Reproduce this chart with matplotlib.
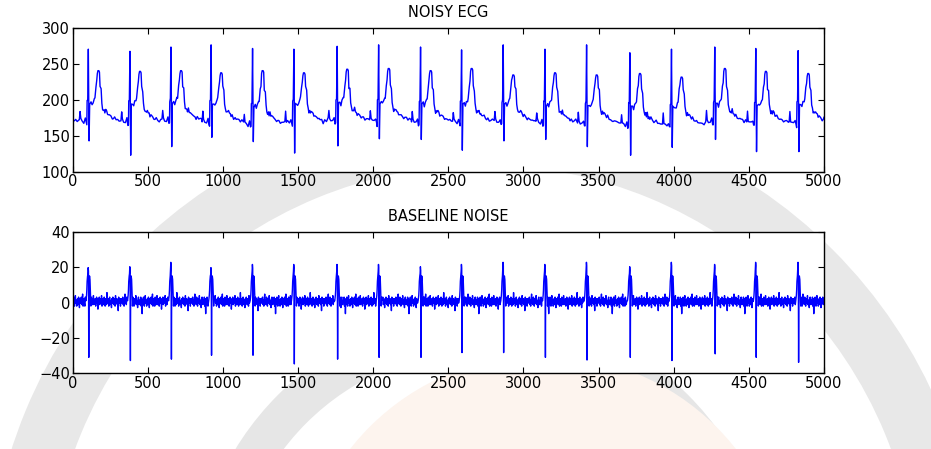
import numpy as np
import matplotlib
matplotlib.use("Agg")
import matplotlib.pyplot as plt
from matplotlib.patches import Wedge, Circle
from matplotlib.transforms import IdentityTransform

# ---------------- data ----------------
r_pos = [104, 381, 654, 921, 1197, 1472, 1760, 2036, 2315, 2588,
         2865, 3143, 3420, 3708, 3985, 4273, 4546, 4828]
r_val = [271, 268, 274, 277, 272, 271, 275, 277, 274, 270,
         277, 271, 277, 266, 271, 274, 272, 269]
s_val = [143, 123, 135, 148, 142, 126, 136, 146, 145, 130,
         143, 145, 135, 123, 134, 145, 128, 128]
t_val = [241, 240, 241, 238, 241, 238, 243, 244, 241, 244,
         235, 238, 235, 237, 232, 244, 240, 237]
base_val = [171, 170, 172, 170, 167, 170, 172, 172, 170, 170,
            170, 169, 168, 166, 166, 170, 169, 169]

# beat shape (offset from R in samples, level above the beat baseline)
wave_off = [-60, -55, -50, -42, -30, -20, -14, -10, -8, -4, 0, 5, 9, 18, 25,
            32, 40, 44, 51, 56, 60, 64, 70, 74, 78, 85, 90, 95, 100, 106,
            110, 116, 122, 128, 133, 140, 150, 160, 167, 175, 185, 195, 205, 217]
wave_rel = [1, 14, 2, 0, -2, 3, -4, -5, 28, 30, 'R', 'S', 24, 25, 22,
            27, 30, 32, 48, 55, 'T2', 'T', 'T', 'T1', 48, 44, 25, 17, 13, 15,
            12, 16, 12, 10, 8, 9, 6, 4, 3, 4, 2, 1, 2, 1]
lead_x = [0, 10, 20, 30, 40]
lead_y = [172, 171, 173, 170, 172]

# baseline-noise panel
spike_up = [19.7, 20.2, 22.7, 19.7, 21.5, 21.5, 21.5, 21.5, 20.2, 21.5,
            22.7, 21.5, 22.7, 20.2, 22.7, 21.5, 22.7, 22.7]
spike_down = [-31, -32.8, -32, -29.8, -29.8, -34.7, -32, -31, -31, -28.3,
              -28.3, -31, -32.5, -31, -32.8, -29, -31, -33.8]
spike_off = [-16, -12, -10, -8, -5, -3, -1, 1, 3, 5, 8, 11, 14, 17, 20]
spike_rel = [1, 4, 7, 12, 15, 'U1', 'U', 'U2', 'D', 12, 15, 13, 5, -2, 3]
noise_pattern = [1, -2, 3, 0, -3, 2, 4, -1, 1, -3, 0, 2, -2, 3, 1, -4, 2, 0,
                 -1, 3, -2, 1, 5, -3, 0, 2, -1, -3, 3, 1, -2, 0, 4, -2, 1, -1,
                 2, -3, 0, 3, -1, 2, -5, 1, 0, 3, -2, 2, -1, 0, 4, -3, 1, 2,
                 -2, 0, 3, -1, -3, 2, 1, -2, 6, 0, -1, 2, -3, 1, 3, -2, 0, 1,
                 -4, 2, -1, 3, 0, -2, 2, 1, -3, 4, -1, 0, 2, -2, 1, -6, 3, 0,
                 -1, 2, -3, 1, 2, -1, 0, 3, -2, 1, -3, 2, 5, -1, 0, -2, 3, 1,
                 -3, 2, 0, -1, 4, -2, 1, 0, -4, 2, 3, -1, -2, 1, 0, 3, -3, 2, -8]

x_ticks = [0, 500, 1000, 1500, 2000, 2500, 3000, 3500, 4000, 4500, 5000]
top_yticks = [100, 150, 200, 250, 300]
bot_yticks = [-40, -20, 0, 20, 40]
n_samples = 5000

# ---------------- build traces ----------------
npat = len(noise_pattern)
top_x, top_y = list(lead_x), list(lead_y)
for i, (r, rv, sv, tv, b) in enumerate(zip(r_pos, r_val, s_val, t_val, base_val)):
    limit = r_pos[i + 1] - 60 if i + 1 < len(r_pos) else n_samples + 1
    for j, (o, d) in enumerate(zip(wave_off, wave_rel)):
        x = r + o
        if x >= limit or x > n_samples:
            break
        if d == 'R':
            y = rv
        elif d == 'S':
            y = sv
        elif d == 'T':
            y = tv
        elif d == 'T2':
            y = tv - 4
        elif d == 'T1':
            y = tv - 2
        else:
            y = b + d + 0.5 * noise_pattern[(i * 17 + j) % npat]
        top_x.append(x)
        top_y.append(y)
if top_x[-1] < n_samples:
    top_x.append(n_samples)
    top_y.append(176)

bot_pts = []
k = 0
for x in range(0, n_samples + 1, 3):
    if any(-18 <= x - r <= 22 for r in r_pos):
        continue
    bot_pts.append((x, 0.85 * noise_pattern[k % npat] + 0.5))
    k += 1
for r, up, dn in zip(r_pos, spike_up, spike_down):
    for o, d in zip(spike_off, spike_rel):
        if d == 'U':
            y = up
        elif d == 'U1':
            y = up - 4
        elif d == 'U2':
            y = up - 2
        elif d == 'D':
            y = dn
        else:
            y = d
        bot_pts.append((r + o, y))
bot_pts.sort()
bot_x = [p[0] for p in bot_pts]
bot_y = [p[1] for p in bot_pts]

# ---------------- figure ----------------
W, H, DPI = 931, 449, 100
fig = plt.figure(figsize=(W / DPI, H / DPI), dpi=DPI, facecolor='white')

# faint watermark behind the axes
cx, cy = 483, H - 600
fig.add_artist(Wedge((cx, cy), 495, 0, 360, width=60, facecolor='#e8e8e8',
                     edgecolor='none', transform=IdentityTransform(), zorder=-5))
fig.add_artist(Wedge((cx, cy), 290, 0, 360, width=40, facecolor='#e6e6e6',
                     edgecolor='none', transform=IdentityTransform(), zorder=-5))
fig.add_artist(Circle((cx + 60, cy), 245, facecolor='#fdf4ee',
                      edgecolor='none', transform=IdentityTransform(), zorder=-5))

font = 'DejaVu Sans'
tick_fs = 10.5


def style(ax, yticks, ylim, title):
    ax.set_facecolor('white')
    ax.set_xlim(0, n_samples)
    ax.set_ylim(*ylim)
    ax.set_xticks(x_ticks)
    ax.set_yticks(yticks)
    ax.tick_params(direction='in', length=4, width=0.8, top=True, right=True,
                   labelsize=tick_fs, pad=2, colors='black')
    for lab in ax.get_xticklabels() + ax.get_yticklabels():
        lab.set_family(font)
    for sp in ax.spines.values():
        sp.set_linewidth(1.0)
        sp.set_color('black')
    ax.set_title(title, fontsize=tick_fs, family=font, pad=8)


ax1 = fig.add_axes([72.7 / W, 1 - 171.7 / H, (824 - 72.7) / W, 143.3 / H])
ax1.plot(top_x, top_y, color='#0000ff', linewidth=1.0)
style(ax1, top_yticks, (100, 300), 'NOISY ECG')

ax2 = fig.add_axes([72.7 / W, 1 - 373.3 / H, (824 - 72.7) / W, 141.6 / H])
ax2.plot(bot_x, bot_y, color='#0000ff', linewidth=1.0)
style(ax2, bot_yticks, (-40, 40), 'BASELINE NOISE')

fig.savefig('out.png', dpi=DPI, facecolor='white')
